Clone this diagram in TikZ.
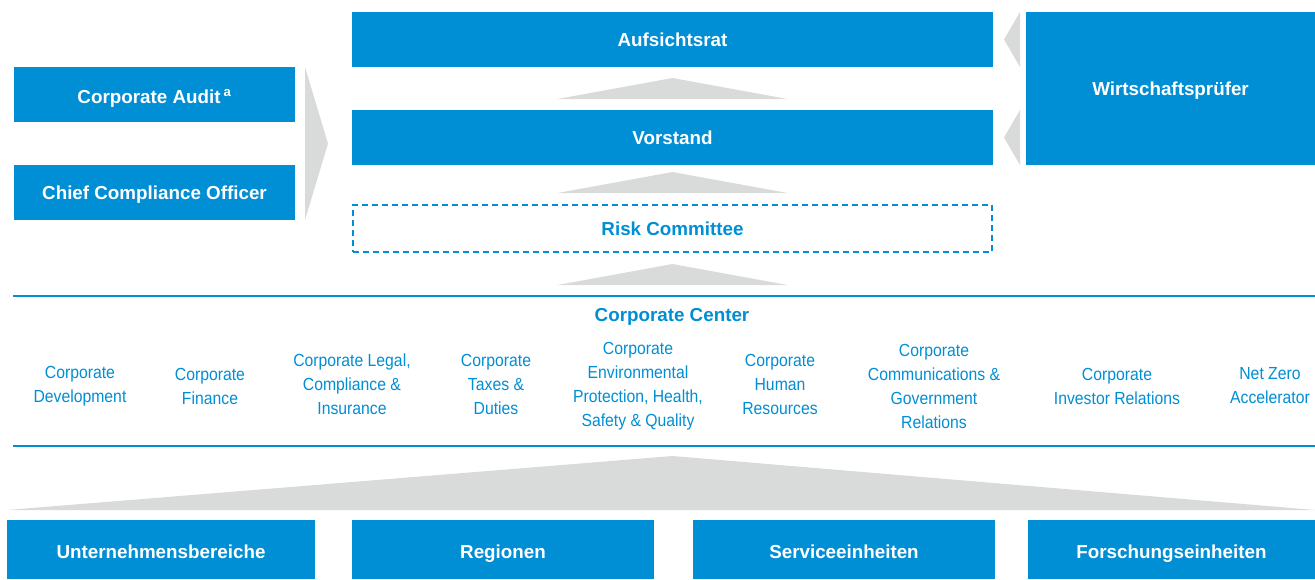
\documentclass[tikz,border=0pt]{standalone}
\usepackage{fontspec}
\setmainfont{Liberation Sans}
\newfontfamily\condfont[FakeStretch=0.9]{Liberation Sans}
\definecolor{orgblue}{RGB}{0,142,212}
\definecolor{chevgray}{RGB}{217,218,218}
\begin{document}
\begin{tikzpicture}[
    x=1pt,y=-1pt,
    box/.style={fill=orgblue,text=white,inner sep=0pt,outer sep=0pt,
        minimum height=55pt,text height=13.5pt,text depth=0pt,
        font=\fontsize{18.8}{22}\selectfont\bfseries},
    riskbox/.style={draw=orgblue,line width=2pt,dash pattern=on 6pt off 4pt,
        text=orgblue,inner sep=0pt,minimum width=639pt,minimum height=47pt,
        text height=13.5pt,text depth=0pt,
        font=\fontsize{18.8}{22}\selectfont\bfseries},
    unit/.style={text=orgblue,align=center,font=\fontsize{17.5}{24}\condfont},
    chev/.style={fill=chevgray},
    ccline/.style={draw=orgblue,line width=2pt}]
    \useasboundingbox (0,0) rectangle (1315,579);
    \node[box,minimum width=641pt] (rat) at (672.5,39.5) {Aufsichtsrat};
    \node[box,minimum width=641pt] (vorstand) at (672.5,137.5) {Vorstand};
    \node[riskbox] (risk) at (672.5,228.5) {Risk Committee};
    \node[box,minimum width=281pt] (audit) at (154.5,94.5)
        {\raisebox{-2pt}{Corporate Audit\,\textsuperscript{a}}};
    \node[box,minimum width=281pt] (cco) at (154.5,192.5) {Chief Compliance Officer};
    \node[box,minimum width=289pt,minimum height=153pt] (wp) at (1170.5,88.5)
        {Wirtschaftsprüfer};
    \coordinate (cctop) at (672.5,296);
    \coordinate (ccbot) at (672.5,446);
    \draw[ccline] (13,296) -- (1315,296);
    \draw[ccline] (13,446) -- (1315,446);
    \node[text=orgblue,font=\fontsize{18.8}{22}\selectfont\bfseries] (cc) at (672,316.5)
        {Corporate Center};
    \foreach \name/\xx/\yy/\txt in {
        dev/80/386/{Corporate\\Development},
        fin/210/386/{Corporate\\Finance},
        legal/352/384/{Corporate Legal,\\Compliance \&\\Insurance},
        tax/496/384/{Corporate\\Taxes \&\\Duties},
        ehs/638/386/{Corporate\\Environmental\\Protection, Health,\\Safety \& Quality},
        hr/780/384/{Corporate\\Human\\Resources},
        comm/934/386/{Corporate\\Communications \&\\Government\\Relations},
        ir/1117/386/{Corporate\\Investor Relations},
        nza/1270/386/{Net Zero\\Accelerator}} {
        \node[unit] (\name) at (\xx,\yy) {\txt};
    }
    \foreach \name/\xx/\ww/\txt in {
        ub/161/308/Unternehmensbereiche,
        reg/503/302/Regionen,
        se/844/302/Serviceeinheiten,
        fe/1171.5/287/Forschungseinheiten} {
        \node[box,minimum width=\ww pt,minimum height=59pt] (\name) at (\xx,549.5)
            {\raisebox{-2pt}{\txt}};
    }
    \foreach \lo/\hi in {vorstand/rat,risk/vorstand,cctop/risk} {
        \fill[chev] ([xshift=-115pt,yshift=11pt]\lo.north) --
            ([yshift=32pt]\lo.north) --
            ([xshift=115pt,yshift=11pt]\lo.north) -- cycle;
    }
    \foreach \n in {rat,vorstand} {
        \fill[chev] ([xshift=27pt]\n.north east) -- ([xshift=11pt]\n.east) --
            ([xshift=27pt]\n.south east) -- cycle;
    }
    \fill[chev] ([xshift=10pt]audit.north east) -- (328,143.5) --
        ([xshift=10pt]cco.south east) -- cycle;
    \fill[chev] ([yshift=10pt]ub.north west) -- ([yshift=-10pt]ccbot) --
        ([yshift=10pt]fe.north east) -- cycle;
\end{tikzpicture}
\end{document}
